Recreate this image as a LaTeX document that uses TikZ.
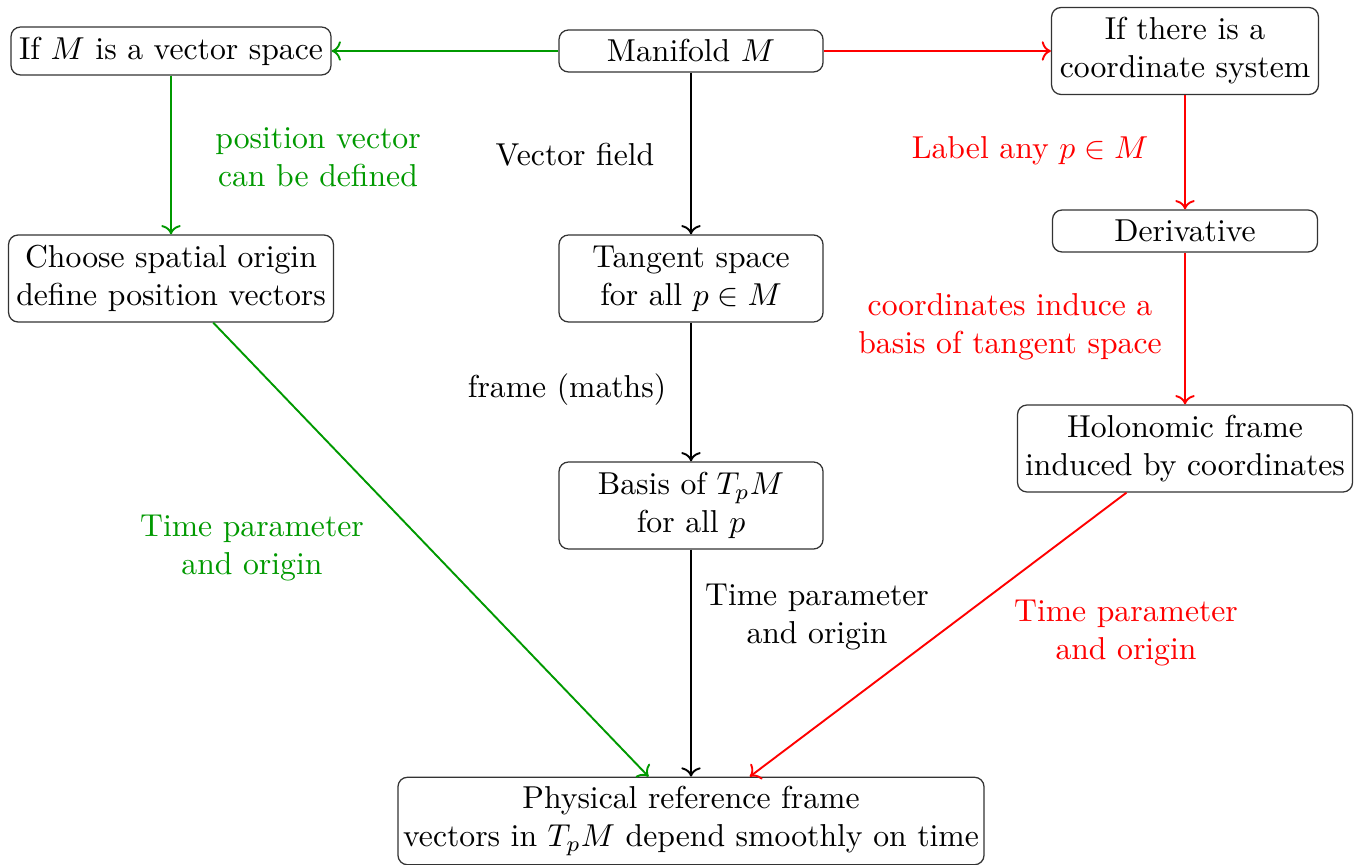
\documentclass[tikz,border=0pt]{standalone}
\usetikzlibrary{arrows.meta}
\definecolor{mygreen}{RGB}{0,153,0}
\begin{document}
\begin{tikzpicture}[x=0.3155pt,y=-0.3155pt,
  box/.style={draw=black!80,rounded corners=3pt,align=center,inner sep=0pt,font=\normalsize},
  lab/.style={align=center,inner sep=0pt},
  arr/.style={->,semithick}]
\useasboundingbox (0,0) rectangle (1362,865);
\node[box,minimum width=100.96pt,minimum height=15.14pt] (vs) at (171,51) {If $M$ is a vector space};
\node[box,minimum width=83.3pt,minimum height=13.25pt] (man) at (691,51) {Manifold $M$};
\node[box,minimum width=84.2pt,minimum height=27.45pt] (coord) at (1185,51) {If there is a\\coordinate system};
\node[box,minimum width=102.5pt,minimum height=27.45pt] (choose) at (171,278.5) {Choose spatial origin\\define position vectors};
\node[box,minimum width=83.3pt,minimum height=27.45pt] (tan) at (691,278.5) {Tangent space\\for all $p\in M$};
\node[box,minimum width=83.6pt,minimum height=13.25pt] (deriv) at (1185,231) {Derivative};
\node[box,minimum width=83.3pt,minimum height=27.45pt] (basis) at (691,505.5) {Basis of $T_pM$\\for all $p$};
\node[box,minimum width=105.7pt,minimum height=27.45pt] (holo) at (1185,448.5) {Holonomic frame\\induced by coordinates};
\node[box,minimum width=184.9pt,minimum height=27.6pt] (phys) at (691,821) {Physical reference frame\\vectors in $T_pM$ depend smoothly on time};

\draw[arr,mygreen] (man) -- (vs);
\draw[arr,red] (man) -- (coord);
\draw[arr,mygreen] (vs) -- (choose);
\draw[arr] (man) -- (tan);
\draw[arr,red] (coord) -- (deriv);
\draw[arr] (tan) -- (basis);
\draw[arr,red] (deriv) -- (holo);
\draw[arr,mygreen] (choose) -- (phys);
\draw[arr] (basis) -- (phys);
\draw[arr,red] (holo) -- (phys);

\node[lab,text=mygreen] (l1) at (318,157) {position vector\\can be defined};
\node[lab] (l2) at (575,155) {Vector field};
\node[lab,text=red] (l3) at (1030,151) {Label any $p\in M$};
\node[lab] (l4) at (567,390) {frame (maths)};
\node[lab,text=red] (l5) at (1010,327) {coordinates induce a\\basis of tangent space};
\node[lab,text=mygreen] (l6) at (252,548) {Time parameter\\and origin};
\node[lab] (l7) at (817,617) {Time parameter\\and origin};
\node[lab,text=red] (l8) at (1126,633) {Time parameter\\and origin};
\end{tikzpicture}
\end{document}
